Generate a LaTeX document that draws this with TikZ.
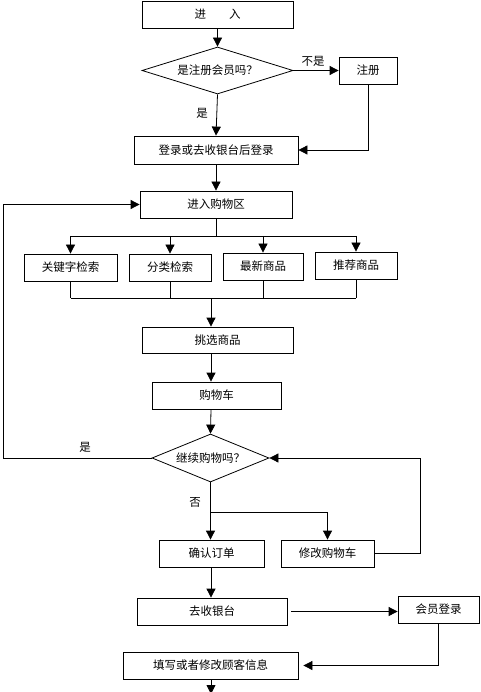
\documentclass[tikz,border=0pt]{standalone}
\usepackage{fontspec}
\setmainfont{Noto Sans CJK SC}
\usetikzlibrary{shapes.geometric,arrows.meta}
\newcommand{\fsz}{\fontsize{11.5}{13}\selectfont}
\begin{document}
\begin{tikzpicture}[x=1pt,y=-1pt,
  box/.style={draw,line width=0.8pt,inner sep=0pt,font=\fsz},
  dia/.style={draw,diamond,line width=0.8pt,inner sep=0pt,font=\fsz},
  arr/.style={-{Triangle[width=9pt,length=9pt]},line width=0.8pt},
  ln/.style={line width=0.8pt},
  lab/.style={font=\fsz,inner sep=0pt}]
\useasboundingbox (0,0) rectangle (480,692);
\clip (0,0) rectangle (480,692);
\fill[white] (0,0) rectangle (480,692);
% nodes
\node[box,minimum width=151pt,minimum height=27pt] (enter) at (217.5,14.5) {进　　入};
\node[dia,aspect=3.2,minimum width=151pt,minimum height=47pt] (d1) at (217.5,70.5) {是注册会员吗？};
\node[box,minimum width=58pt,minimum height=27pt] (reg) at (368,70.5) {注册};
\node[box,minimum width=164pt,minimum height=28pt] (login) at (216,150) {登录或去收银台后登录};
\node[box,minimum width=152pt,minimum height=27pt] (shop) at (216,204.5) {进入购物区};
\node[box,minimum width=93pt,minimum height=27pt] (kw) at (70.5,267.5) {关键字检索};
\node[box,minimum width=82pt,minimum height=27pt] (cat) at (170,267.5) {分类检索};
\node[box,minimum width=80pt,minimum height=27pt] (new) at (263,266.5) {最新商品};
\node[box,minimum width=82pt,minimum height=27pt] (rec) at (356,265.5) {推荐商品};
\node[box,minimum width=151pt,minimum height=26pt] (pick) at (217.5,340) {挑选商品};
\node[box,minimum width=129pt,minimum height=27pt] (cart) at (216.5,395.5) {购物车};
\node[dia,aspect=2.44,minimum width=117pt,minimum height=48pt] (d2) at (210.5,458) {继续购物吗？};
\node[box,minimum width=105pt,minimum height=27pt] (confirm) at (211.5,553.5) {确认订单};
\node[box,minimum width=93pt,minimum height=27pt] (modify) at (327.5,553.5) {修改购物车};
\node[box,minimum width=150pt,minimum height=27pt] (cashier) at (212,611.5) {去收银台};
\node[box,minimum width=81pt,minimum height=27pt] (member) at (438.5,609.5) {会员登录};
\node[box,minimum width=175pt,minimum height=27pt] (fill) at (210.5,665.5) {填写或者修改顾客信息};
% labels
\node[lab] (l1) at (313,61) {不是};
\node[lab] (l2) at (202,113) {是};
\node[lab] (l3) at (85,447) {是};
\node[lab] (l4) at (195,502) {否};
% coordinates
\coordinate (s1) at (216,236);
\coordinate (m1) at (211,298);
\coordinate (L) at (3,458);
\coordinate (R) at (420,458);
\coordinate (b2) at (211,512);
\coordinate (endp) at (211,694);
% connectors
\draw[arr] (enter.south) -- (d1.north);
\draw[arr] (d1.east) -- (reg.west);
\draw[arr] (reg.south) |- (login.east);
\draw[arr] (d1.south) -- (login.north);
\draw[arr] (login.south) -- (shop.north);
\draw[ln] (shop.south) -- (s1);
\draw[ln] (kw.north |- s1) -- (rec.north |- s1);
\draw[arr] (kw.north |- s1) -- (kw.north);
\draw[arr] (cat.north |- s1) -- (cat.north);
\draw[arr] (new.north |- s1) -- (new.north);
\draw[arr] (rec.north |- s1) -- (rec.north);
\draw[ln] (kw.south) -- (kw.south |- m1);
\draw[ln] (cat.south) -- (cat.south |- m1);
\draw[ln] (new.south) -- (new.south |- m1);
\draw[ln] (rec.south) -- (rec.south |- m1);
\draw[ln] (kw.south |- m1) -- (rec.south |- m1);
\draw[arr] (m1) -- (pick.north -| m1);
\draw[arr] (pick.south -| m1) -- (cart.north -| m1);
\draw[arr] (cart.south -| m1) -- (d2.north);
\draw[arr] (d2.west) -- (L) |- (shop.west);
\draw[arr] (modify.east) -| (R) -- (d2.east);
\draw[arr] (d2.south) -- (confirm.north -| d2.south);
\draw[arr] (b2) -| (modify.north);
\draw[arr] (confirm.south -| m1) -- (cashier.north -| m1);
\draw[arr,shorten <=4pt] (cashier.east) -- (cashier.east -| member.west);
\draw[arr,shorten >=5pt] (member.south) |- (fill.east);
\draw[arr] (fill.south -| m1) -- (endp);
\end{tikzpicture}
\end{document}
